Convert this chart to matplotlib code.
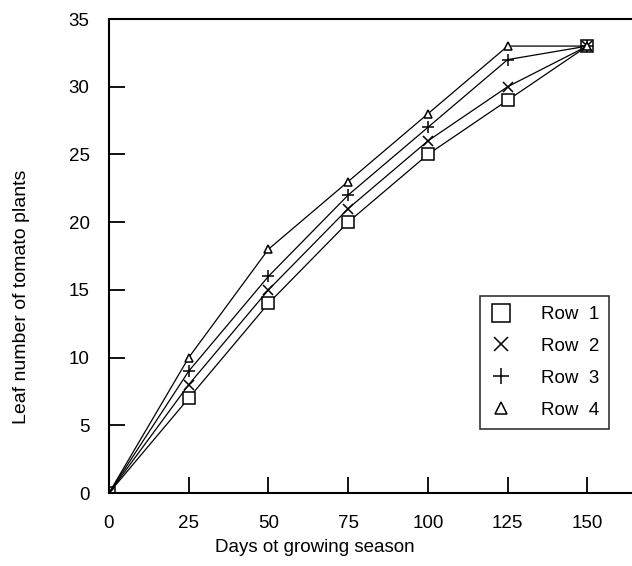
import numpy as np
import matplotlib
matplotlib.use("Agg")
import matplotlib.pyplot as plt

plt.rcParams['font.family'] = ['Liberation Sans', 'DejaVu Sans']

# days of growing season
days = [0, 25, 50, 75, 100, 125, 150]

# leaf number per row
row1 = [0, 7, 14, 20, 25, 29, 33]
row2 = [0, 8, 15, 21, 26, 30, 33]
row3 = [0, 9, 16, 22, 27, 32, 33]
row4 = [0, 10, 18, 23, 28, 33, 33]

labels = ['Row  1', 'Row  2', 'Row  3', 'Row  4']
markers = ['s', 'x', '+', '^']
msizes = [9, 7, 8, 6]

x_ticks = [0, 25, 50, 75, 100, 125, 150]
y_ticks = [0, 5, 10, 15, 20, 25, 30, 35]

fig = plt.figure(figsize=(6.32, 5.66), dpi=100)
ax = fig.add_axes([109/632, 73/566, 523/632, 474/566])

for vals, lab, m, ms in zip([row1, row2, row3, row4], labels, markers, msizes):
    ax.plot(days, vals, color='black', lw=0.9, marker=m, ms=ms,
            mfc='white', mec='black', mew=1.1, label=lab)

ax.set_xlim(0, 164)
ax.set_ylim(0, 35)
ax.set_xticks(x_ticks)
ax.set_yticks(y_ticks)
ax.tick_params(direction='in', length=11.5, width=1.3, labelsize=13.5)
ax.tick_params(axis='y', pad=14)
ax.tick_params(axis='x', pad=16)

ax.spines['right'].set_visible(False)
for s in ['top', 'left', 'bottom']:
    ax.spines[s].set_linewidth(1.5)

fig.text(315/632, 1 - 548/566, 'Days ot growing season', ha='center', va='center', fontsize=13.5)
fig.text(22/632, 1 - 297/566, 'Leaf number of tomato plants', ha='center', va='center',
         rotation=90, fontsize=14)

leg = ax.legend(loc='upper left', bbox_to_anchor=(0.709, 0.416), frameon=True,
                fancybox=False, edgecolor='black', fontsize=13.5, markerscale=1.4,
                handlelength=1.2, handletextpad=1.5, labelspacing=0.78,
                borderpad=0.55, borderaxespad=0)
leg.get_frame().set_linewidth(1.2)
for h in leg.legend_handles:
    h.set_linestyle('none')

fig.savefig('out.png', dpi=100)
